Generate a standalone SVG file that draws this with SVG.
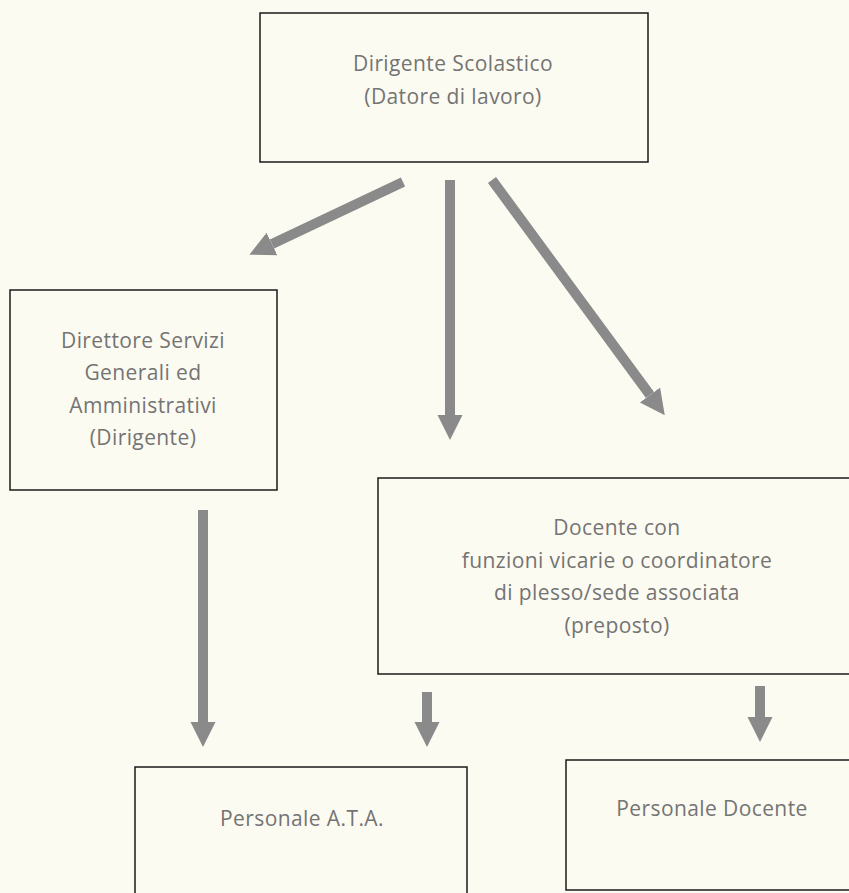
<svg xmlns="http://www.w3.org/2000/svg" width="849" height="893" viewBox="0 0 849 893">
<defs>
<style>
.box{fill:none;stroke:#1a1a1a;stroke-width:1.5}
.t{font-family:"Open Sans","Liberation Sans",sans-serif;font-size:21px;letter-spacing:0.4px;fill:#747474;text-anchor:middle}
.arr{stroke:#8a8a8a;stroke-width:10;fill:none;marker-end:url(#ah)}
</style>
<marker id="ah" viewBox="0 0 10 10" refX="0" refY="5" markerWidth="2.5" markerHeight="2.7" orient="auto" markerUnits="strokeWidth">
<path d="M0,0 L10,5 L0,10 z" fill="#8a8a8a"/>
</marker>
</defs>
<rect width="849" height="893" fill="#fcfbf1"/>
<g id="connectors">
<line class="arr" x1="403" y1="182" x2="272" y2="244"/>
<line class="arr" x1="450" y1="180" x2="450" y2="415"/>
<line class="arr" x1="492" y1="180" x2="650" y2="395"/>
<line class="arr" x1="203" y1="510" x2="203" y2="722"/>
<line class="arr" x1="427" y1="692" x2="427" y2="722"/>
<line class="arr" x1="760" y1="686" x2="760" y2="717"/>
</g>
<g id="n1">
<rect class="box" x="260" y="13" width="388" height="149"/>
<text class="t" x="453" y="71">Dirigente Scolastico</text>
<text class="t" x="453" y="104">(Datore di lavoro)</text>
</g>
<g id="n2">
<rect class="box" x="10" y="290" width="267" height="200"/>
<text class="t" x="143" y="348">Direttore Servizi</text>
<text class="t" x="143" y="380">Generali ed</text>
<text class="t" x="143" y="413">Amministrativi</text>
<text class="t" x="143" y="445">(Dirigente)</text>
</g>
<g id="n3">
<rect class="box" x="378" y="478" width="480" height="196"/>
<text class="t" x="617" y="535">Docente con</text>
<text class="t" x="617" y="568">funzioni vicarie o coordinatore</text>
<text class="t" x="617" y="600">di plesso/sede associata</text>
<text class="t" x="617" y="633">(preposto)</text>
</g>
<g id="n4">
<rect class="box" x="135" y="767" width="332" height="140"/>
<text class="t" x="302" y="826">Personale A.T.A.</text>
</g>
<g id="n5">
<rect class="box" x="566" y="760" width="290" height="130"/>
<text class="t" x="712" y="816">Personale Docente</text>
</g>
</svg>
